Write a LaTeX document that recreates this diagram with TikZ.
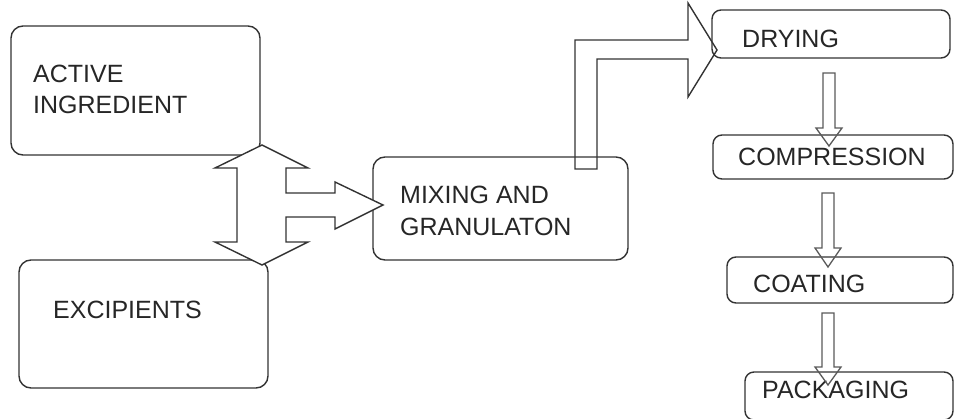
\documentclass[tikz,border=0pt]{standalone}
\usepackage{fontspec}
\setmainfont{Liberation Sans}
\begin{document}
\begin{tikzpicture}[x=1pt,y=-1pt,
  box/.style={draw=black!80,line width=1.4pt,rounded corners=12pt,inner sep=0pt,outer sep=0pt},
  smallbox/.style={box,rounded corners=9pt},
  lbl/.style={anchor=base west,inner sep=0pt,text=black!85,font=\fontsize{25}{29}\selectfont},
  blockarrow/.style={draw=black!80,line width=1.4pt,line join=miter},
  thinarrow/.style={draw=black!65,line width=1.3pt}]
\useasboundingbox (0,0) rectangle (956,418);
\clip (0,0) rectangle (956,418);
% boxes
\node[box,minimum width=249pt,minimum height=129pt] (act) at (135.5,90.5) {};
\node[box,minimum width=249pt,minimum height=128pt] (exc) at (143.5,324) {};
\node[box,minimum width=255pt,minimum height=103pt] (mix) at (500.5,208.5) {};
\node[smallbox,minimum width=238pt,minimum height=48pt] (dry) at (831,34) {};
\node[smallbox,minimum width=240pt,minimum height=44pt] (comp) at (833,157) {};
\node[smallbox,minimum width=226pt,minimum height=46pt] (coat) at (840,280) {};
\node[smallbox,minimum width=208pt,minimum height=48pt] (pack) at (849,396) {};
% labels
\node[lbl] (tact1) at (33,82) {ACTIVE};
\node[lbl] (tact2) at (33,113) {INGREDIENT};
\node[lbl] (texc) at (53,318) {EXCIPIENTS};
\node[lbl] (tmix1) at (400,203) {MIXING AND};
\node[lbl] (tmix2) at (400,235) {GRANULATON};
\node[lbl] (tdry) at (742,47) {DRYING};
\node[lbl] (tcomp) at (738,165) {COMPRESSION};
\node[lbl] (tcoat) at (753,292) {COATING};
\node[lbl] (tpack) at (762,398) {PACKAGING};
% double block arrow between active ingredient / excipients and to mixing
\draw[blockarrow,fill=white] (262,145) -- (308,168) -- (286,168) -- (286,193) -- (335,193)
  -- (335,182) -- (383,205) -- (335,229) -- (335,217) -- (286,217) -- (286,242)
  -- (308,242) -- (262,265) -- (215,242) -- (237,242) -- (237,168) -- (215,168) -- cycle;
% block arrow from mixing to drying
\draw[blockarrow] (575,169) -- (575,40) -- (688,40) -- (688,3) -- (717,50) -- (688,97)
  -- (688,59) -- (597,59) -- (597,169) -- cycle;
% small down arrows
\draw[thinarrow] (823,73) -- (835,73) -- (835,128) -- (842,128) -- (829,146) -- (816,128) -- (823,128) -- cycle;
\draw[thinarrow] (822,193) -- (834,193) -- (834,248) -- (841,248) -- (828,267) -- (815,248) -- (822,248) -- cycle;
\draw[thinarrow] (822,313) -- (834,313) -- (834,367) -- (841,367) -- (828,385) -- (815,367) -- (822,367) -- cycle;
\end{tikzpicture}
\end{document}
